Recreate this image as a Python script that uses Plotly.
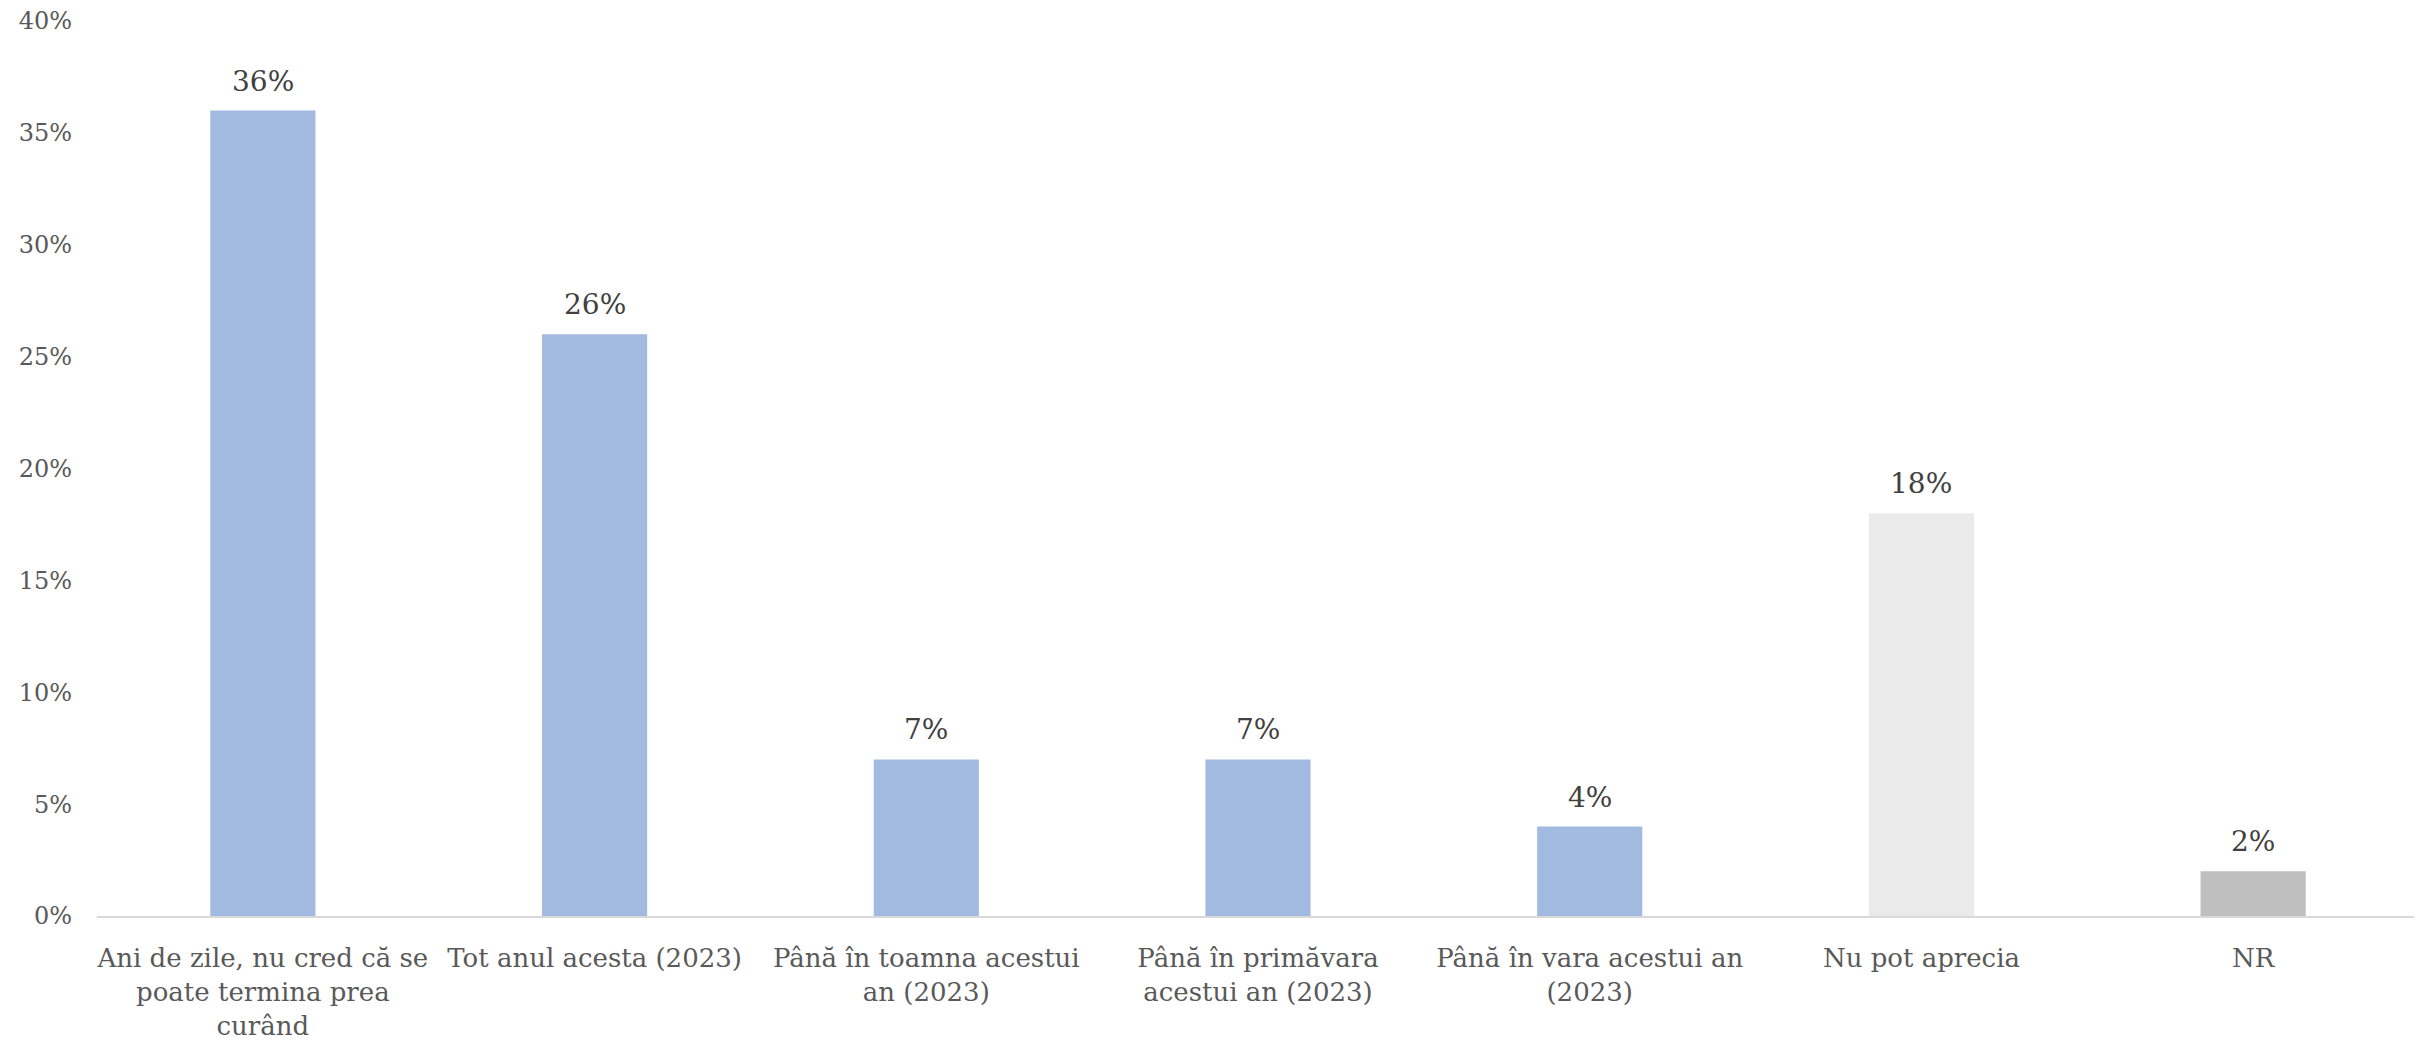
import plotly.graph_objects as go

categories = [
    "Ani de zile, nu cred că se<br>poate termina prea<br>curând",
    "Tot anul acesta (2023)",
    "Până în toamna acestui<br>an (2023)",
    "Până în primăvara<br>acestui an (2023)",
    "Până în vara acestui an<br>(2023)",
    "Nu pot aprecia",
    "NR",
]
values = [36, 26, 7, 7, 4, 18, 2]
bar_colors = ["#A2B9E0", "#A2B9E0", "#A2B9E0", "#A2B9E0", "#A2B9E0", "#EAEAEA", "#BFBFBF"]
y_ticks = [0, 5, 10, 15, 20, 25, 30, 35, 40]
y_tick_labels = [f"{v}%" for v in y_ticks]
data_labels = [f"{v}%" for v in values]

FONT = "DejaVu Serif"

fig = go.Figure()
fig.add_trace(go.Bar(
    x=categories,
    y=values,
    marker=dict(color=bar_colors, line=dict(width=0)),
    hoverinfo="skip",
))

for c, v, t in zip(categories, values, data_labels):
    fig.add_annotation(
        x=c, y=v, text=t, showarrow=False,
        yanchor="bottom", yshift=11,
        font=dict(family=FONT, size=28, color="#404040"),
    )

fig.update_layout(
    width=2422, height=1045,
    margin=dict(l=89, r=11, t=13, b=137, autoexpand=False),
    paper_bgcolor="white", plot_bgcolor="white",
    bargap=0.683,
    showlegend=False,
    font=dict(family=FONT, color="#595959"),
)
fig.update_xaxes(
    showgrid=False, showline=True, linecolor="#D9D9D9", linewidth=2,
    ticks="", tickfont=dict(family=FONT, size=26, color="#595959"),
    ticklabelstandoff=18, zeroline=False, automargin=False,
)
fig.update_yaxes(
    range=[0, 40], tickvals=y_ticks, ticktext=y_tick_labels,
    showgrid=False, showline=False, zeroline=False, ticks="",
    tickfont=dict(family=FONT, size=24, color="#595959"),
    ticklabelstandoff=24, automargin=False, ticklabeloverflow="allow",
)

fig.write_html("out.html")
